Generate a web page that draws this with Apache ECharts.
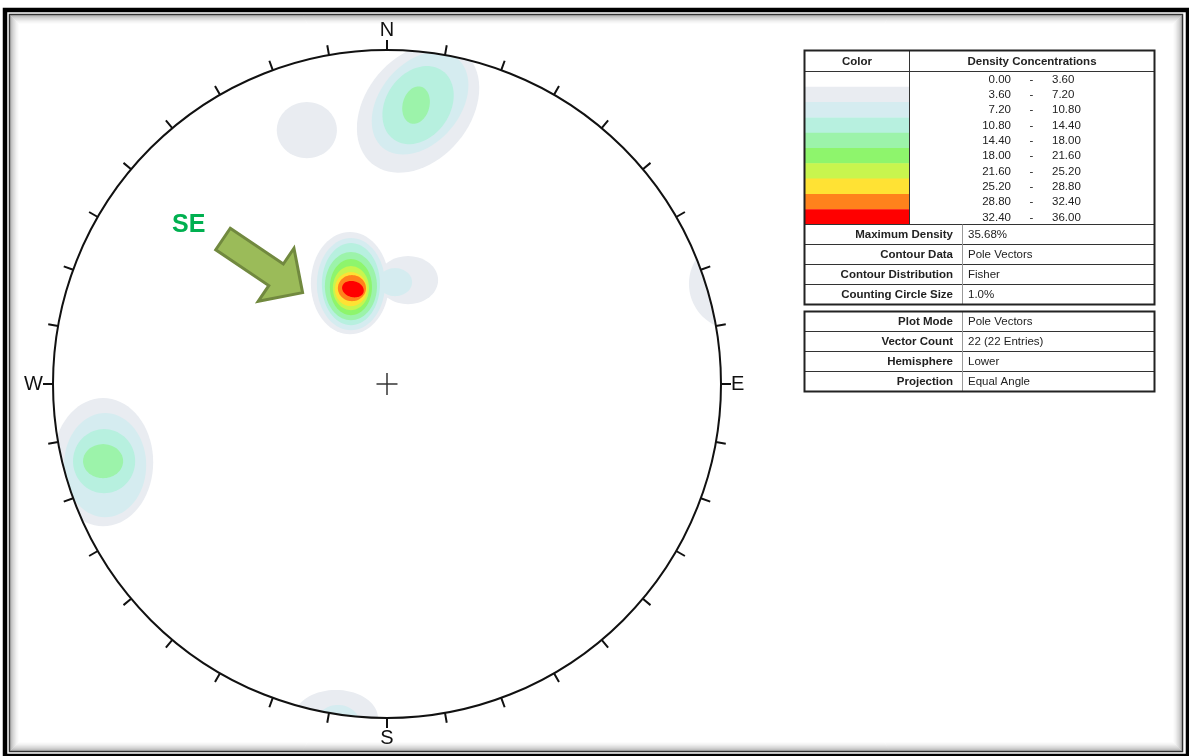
<!DOCTYPE html>
<html>
<head>
<meta charset="utf-8">
<title>Pole density stereonet</title>
<script src="https://cdn.jsdelivr.net/npm/echarts@6/dist/echarts.min.js"></script>
<style>
  html, body { margin: 0; padding: 0; background: #fff; }
  #chart { width: 1189px; height: 756px; }
</style>
</head>
<body>
<div id="chart"></div>
<script>
// density classes (%) and their fill colours
const levelBreaks = [0, 3.6, 7.2, 10.8, 14.4, 18, 21.6, 25.2, 28.8, 32.4, 36];
const levelColors = ['#ffffff', '#e9ecf1', '#d5ecf0', '#b7f0df', '#9cf3aa', '#8ef56c', '#c8f54e', '#ffe234', '#ff821c', '#ff0000'];

// contour patches in net units (radius 1, north up): [x, y, semiAxisA, semiAxisB, tiltDeg, level]
const northCluster = [
  [0.093, 0.826, 0.216, 0.156, 50, 1],
  [0.099, 0.841, 0.174, 0.120, 50, 2],
  [0.093, 0.835, 0.126, 0.096, 55, 3],
  [0.087, 0.835, 0.057, 0.040, 75, 4]
];
const northWestPatch = [
  [-0.240, 0.760, 0.090, 0.084, 0, 1]
];
const seCluster = [
  [-0.111, 0.302, 0.117, 0.153, 0, 1],
  [0.063, 0.311, 0.090, 0.072, 0, 1],
  [-0.108, 0.299, 0.102, 0.138, 0, 2],
  [0.024, 0.305, 0.051, 0.042, 0, 2],
  [-0.108, 0.299, 0.087, 0.123, 0, 3],
  [-0.108, 0.293, 0.078, 0.102, 0, 4],
  [-0.108, 0.290, 0.063, 0.084, 0, 5],
  [-0.108, 0.287, 0.054, 0.066, 0, 6],
  [-0.108, 0.284, 0.048, 0.051, 0, 7],
  [-0.105, 0.287, 0.042, 0.039, 0, 8],
  [-0.102, 0.284, 0.033, 0.024, -15, 9]
];
const westCluster = [
  [-0.850, -0.234, 0.150, 0.192, 0, 1],
  [-0.844, -0.243, 0.123, 0.156, 0, 2],
  [-0.847, -0.231, 0.093, 0.096, 0, 3],
  [-0.850, -0.231, 0.060, 0.051, 0, 4]
];
const southRim = [
  [-0.153, -1.000, 0.126, 0.084, 0, 1],
  [-0.147, -1.018, 0.066, 0.057, 0, 2]
];
const eastRim = [
  [1.042, 0.300, 0.138, 0.138, 0, 1]
];

const compassLabels = { 0: 'N', 90: 'E', 180: 'S', 270: 'W' };

const statLabels = ['Maximum Density', 'Contour Data', 'Contour Distribution', 'Counting Circle Size'];
const statValues = ['35.68%', 'Pole Vectors', 'Fisher', '1.0%'];
const plotLabels = ['Plot Mode', 'Vector Count', 'Hemisphere', 'Projection'];
const plotValues = ['Pole Vectors', '22 (22 Entries)', 'Lower', 'Equal Angle'];

const patches = [].concat(northCluster, northWestPatch, seCluster, westCluster, southRim, eastRim)
  .sort((p, q) => p[5] - q[5]);

const FONT = '"Liberation Sans", Arial, sans-serif';

function renderPatch(params, api) {
  const cx = api.value(0), cy = api.value(1);
  const a = api.value(2), b = api.value(3);
  const t = api.value(4) * Math.PI / 180;
  const pts = [];
  for (let i = 0; i < 72; i++) {
    const u = i / 72 * Math.PI * 2;
    let x = cx + a * Math.cos(u) * Math.cos(t) - b * Math.sin(u) * Math.sin(t);
    let y = cy + a * Math.cos(u) * Math.sin(t) + b * Math.sin(u) * Math.cos(t);
    const r = Math.hypot(x, y);
    if (r > 1) { x /= r; y /= r; }   // keep inside the net
    pts.push(api.coord([x, y]));
  }
  return {
    type: 'polygon',
    shape: { points: pts },
    style: { fill: levelColors[api.value(5)] }
  };
}

function renderCross(params, api) {
  const c = api.coord([api.value(0), api.value(1)]);
  const s = { stroke: '#333', lineWidth: 1.5 };
  return {
    type: 'group',
    children: [
      { type: 'line', shape: { x1: c[0] - 10.5, y1: c[1], x2: c[0] + 10.5, y2: c[1] }, style: s },
      { type: 'line', shape: { x1: c[0], y1: c[1] - 11, x2: c[0], y2: c[1] + 11 }, style: s }
    ]
  };
}

function txt(str, x, y, align, bold) {
  return {
    type: 'text', x: x, y: y, silent: true,
    style: {
      text: str, fill: '#222', fontSize: 11.5, fontFamily: FONT,
      fontWeight: bold ? 'bold' : 'normal',
      align: align, textAlign: align, verticalAlign: 'middle', textVerticalAlign: 'middle'
    }
  };
}

function hline(x1, x2, y, color, w) {
  return { type: 'line', silent: true, shape: { x1: x1, y1: y, x2: x2, y2: y }, style: { stroke: color, lineWidth: w } };
}
function vline(x, y1, y2, color, w) {
  return { type: 'line', silent: true, shape: { x1: x, y1: y1, x2: x, y2: y2 }, style: { stroke: color, lineWidth: w } };
}

function legendTables() {
  const els = [];
  const L = 804.5, R = 1154.5, T = 50.5, headH = 21, rowH = 15.3, statH = 20;
  const colorDiv = 909.5, statDiv = 962.5;
  const bodyTop = T + headH;
  levelColors.forEach((c, i) => {
    const y = bodyTop + i * rowH;
    els.push({ type: 'rect', silent: true, shape: { x: L, y: y, width: colorDiv - L, height: rowH + 0.4 }, style: { fill: c } });
    const cy = y + rowH / 2 + 0.5;
    els.push(txt(levelBreaks[i].toFixed(2), 1011, cy, 'right'));
    els.push(txt('-', 1031.5, cy, 'center'));
    els.push(txt(levelBreaks[i + 1].toFixed(2), 1052, cy, 'left'));
  });
  els.push(txt('Color', 857, T + headH / 2 + 0.5, 'center', true));
  els.push(txt('Density Concentrations', 1032, T + headH / 2 + 0.5, 'center', true));
  els.push(hline(L, R, bodyTop, '#333', 1));
  els.push(vline(colorDiv, T, bodyTop + 10 * rowH, '#333', 1));
  const statTop = bodyTop + 10 * rowH;
  statLabels.forEach((s, i) => {
    const y = statTop + i * statH;
    els.push(hline(L, R, y, '#333', 1));
    els.push(txt(s, 953, y + statH / 2 + 0.5, 'right', true));
    els.push(txt(statValues[i], 968, y + statH / 2 + 0.5, 'left'));
  });
  const t1Bottom = statTop + 4 * statH;
  els.push(vline(statDiv, statTop, t1Bottom, '#999', 1));
  els.push({ type: 'rect', silent: true, shape: { x: L, y: T, width: R - L, height: t1Bottom - T }, style: { fill: null, stroke: '#222', lineWidth: 2 } });

  const T2 = 311.5;
  plotLabels.forEach((s, i) => {
    const y = T2 + i * statH;
    if (i > 0) els.push(hline(L, R, y, '#333', 1));
    els.push(txt(s, 953, y + statH / 2 + 0.5, 'right', true));
    els.push(txt(plotValues[i], 968, y + statH / 2 + 0.5, 'left'));
  });
  els.push(vline(statDiv, T2, T2 + 4 * statH, '#999', 1));
  els.push({ type: 'rect', silent: true, shape: { x: L, y: T2, width: R - L, height: 4 * statH }, style: { fill: null, stroke: '#222', lineWidth: 2 } });
  return els;
}

function frame() {
  const els = [];
  els.push({ type: 'rect', silent: true, shape: { x: 5, y: 10, width: 1183, height: 746 }, style: { fill: null, stroke: '#000', lineWidth: 4.5 } });
  els.push({ type: 'rect', silent: true, shape: { x: 9.5, y: 14.5, width: 1173, height: 737 }, style: { fill: null, stroke: '#333', lineWidth: 1.5 } });
  for (let i = 0; i < 10; i++) {
    const a = 0.3 * Math.pow(1 - i / 10, 2);
    els.push({ type: 'rect', silent: true,
      shape: { x: 10.75 + i, y: 15.75 + i, width: 1170.5 - 2 * i, height: 734.5 - 2 * i },
      style: { fill: null, stroke: 'rgba(0,0,0,' + a.toFixed(3) + ')', lineWidth: 1 } });
  }
  return els;
}

function arrowGraphic() {
  return [
    {
      type: 'polygon', silent: true,
      x: 223, y: 239, rotation: -34 * Math.PI / 180,
      shape: { points: [[0, -13], [64, -13], [64, -32], [96, 0], [64, 32], [64, 13], [0, 13]] },
      style: { fill: '#9bbb59', stroke: '#71893f', lineWidth: 3, lineJoin: 'miter' }
    },
    {
      type: 'text', silent: true, x: 172, y: 225,
      style: { text: 'SE', fill: '#00b050', fontSize: 25, fontWeight: 'bold', fontFamily: FONT,
        verticalAlign: 'middle', textVerticalAlign: 'middle' }
    }
  ];
}

const chart = echarts.init(document.getElementById('chart'), null, { renderer: 'canvas' });
chart.setOption({
  animation: false,
  backgroundColor: '#fff',
  grid: { left: 53, top: 50, width: 668, height: 668 },
  xAxis: { type: 'value', min: -1, max: 1, show: false },
  yAxis: { type: 'value', min: -1, max: 1, show: false },
  polar: { center: [387, 384], radius: 334 },
  angleAxis: {
    type: 'value', min: 0, max: 360, interval: 10, startAngle: 90, clockwise: true, z: 10,
    axisLine: { lineStyle: { color: '#111', width: 2 } },
    axisTick: { show: true, inside: false, length: 10, lineStyle: { color: '#111', width: 2 } },
    axisLabel: {
      margin: 10, fontSize: 20, color: '#111', fontFamily: FONT,
      formatter: v => compassLabels[v] || ''
    },
    splitLine: { show: false }
  },
  radiusAxis: { min: 0, max: 1, axisLine: { show: false }, axisTick: { show: false }, axisLabel: { show: false }, splitLine: { show: false } },
  graphic: { elements: frame().concat(legendTables(), arrowGraphic()) },
  series: [
    {
      type: 'custom', coordinateSystem: 'cartesian2d', silent: true, clip: false, z: 2,
      renderItem: renderPatch, data: patches
    },
    {
      type: 'custom', coordinateSystem: 'cartesian2d', silent: true, clip: false, z: 3,
      renderItem: renderCross, data: [[0, 0]]
    }
  ]
});
</script>
</body>
</html>
